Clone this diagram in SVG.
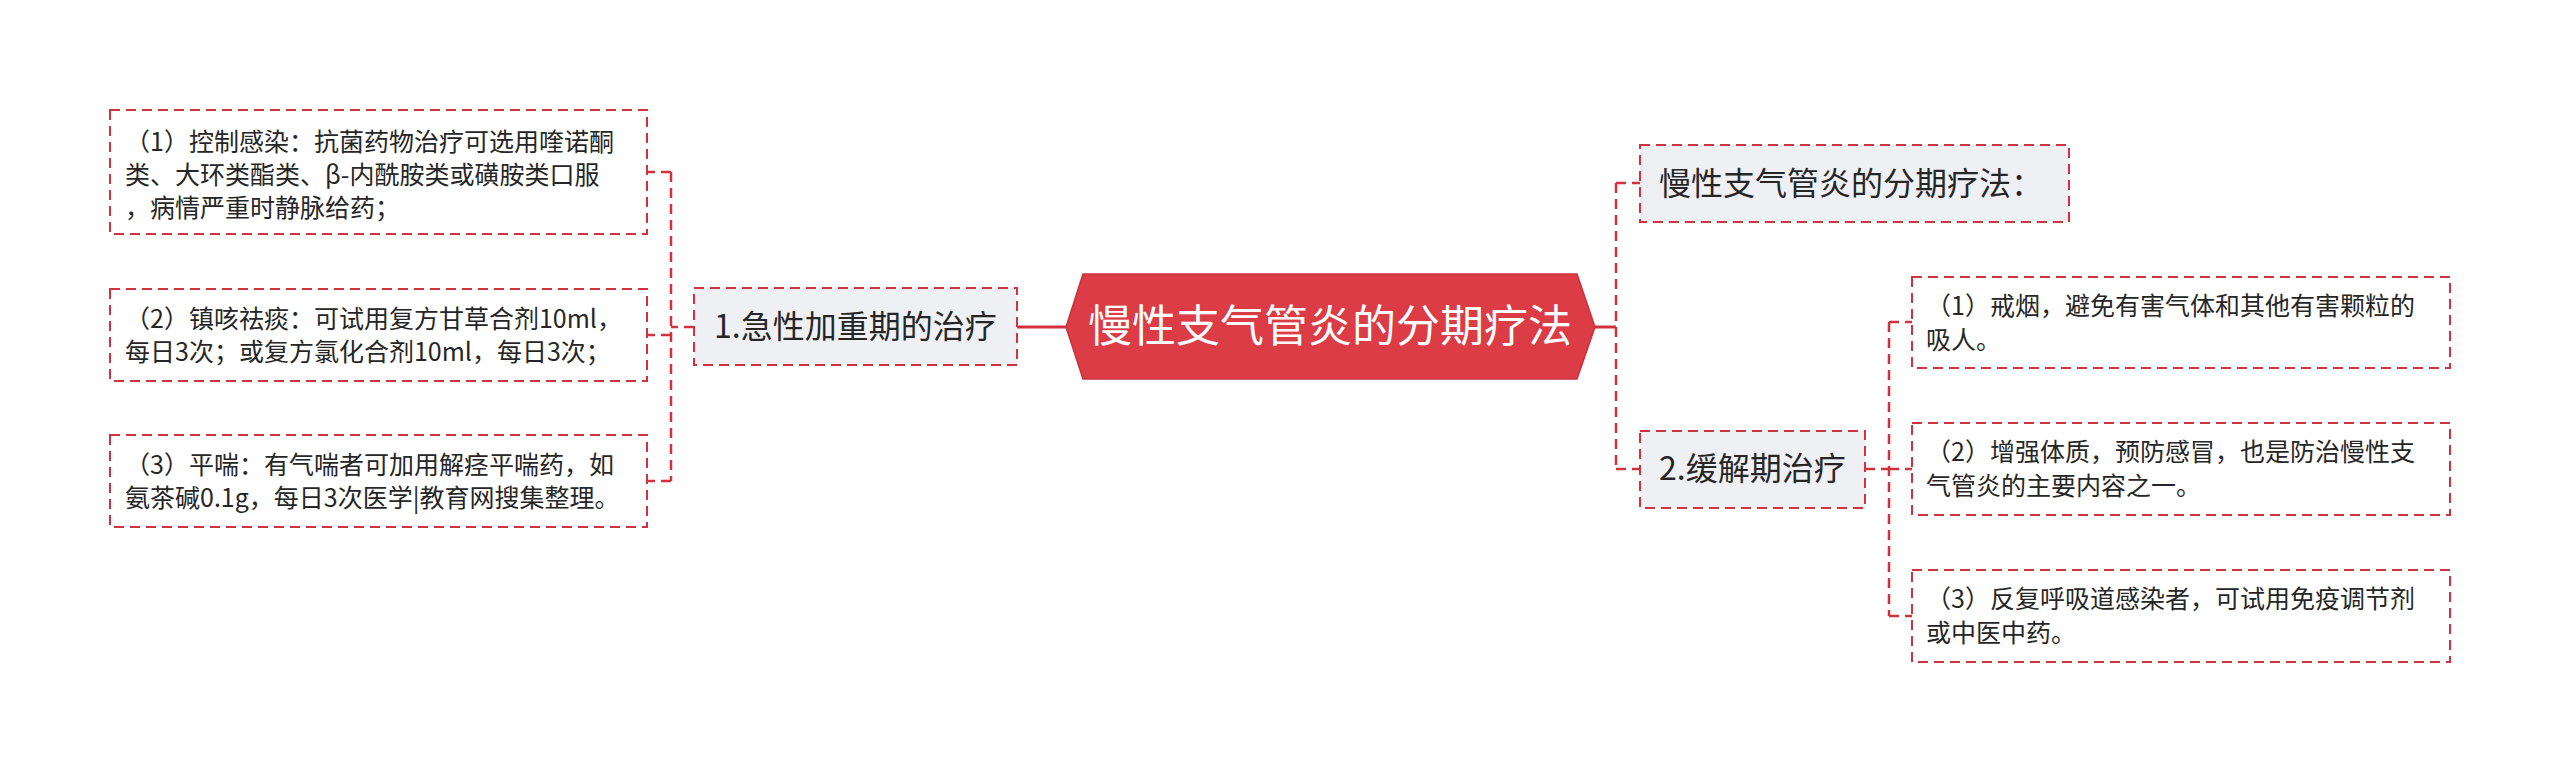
<svg xmlns="http://www.w3.org/2000/svg" width="2560" height="771" viewBox="0 0 2560 771">
<style>
.bg{fill:#ffffff}
.leaf{fill:#ffffff;stroke:#d0323e;stroke-width:2;stroke-dasharray:10 6}
.node{fill:#eef0f4;stroke:#d0323e;stroke-width:2;stroke-dasharray:10 6}
.conn{fill:none;stroke:#d0323e;stroke-width:2.5;stroke-dasharray:10 6}
.solid{fill:none;stroke:#d0323e;stroke-width:3}
.t{font-family:"Noto Sans CJK SC","Noto Sans",sans-serif;fill:#262626}
.s{font-size:25px}
.m{font-size:32px}
.c{font-size:44px;fill:#ffffff;text-anchor:middle}
</style>
<rect class="bg" x="0" y="0" width="2560" height="771"/>
<g id="connectors">
<path class="solid" d="M1017 327 H1067"/>
<path class="solid" d="M1595 327 H1616"/>
<path class="conn" d="M694 327 H671 M671 172 V481 M671 172 H647 M671 335 H647 M671 481 H647"/>
<path class="conn" d="M1616 183 V469 M1616 183 H1640 M1616 469 H1640"/>
<path class="conn" d="M1865 469 H1889 M1889 322 V616 M1889 322 H1912 M1889 469 H1912 M1889 616 H1912"/>
</g>
<g id="root">
<polygon points="1066,327 1083,274 1577,274 1595,327 1577,379 1083,379" fill="#dc3c46" stroke="#c8323c" stroke-width="1.5"/>
<text class="t c" x="1330" y="342">慢性支气管炎的分期疗法</text>
</g>
<g id="n-acute">
<rect class="node" x="694" y="288" width="323" height="77"/>
<text class="t m" x="714" y="338">1.急性加重期的治疗</text>
</g>
<g id="n-acute-1">
<rect class="leaf" x="110" y="110" width="537" height="124"/>
<text class="t s"><tspan x="125" y="151">（1）控制感染：抗菌药物治疗可选用喹诺酮</tspan><tspan x="125" y="184">类、大环类酯类、β-内酰胺类或磺胺类口服</tspan><tspan x="125" y="217">，病情严重时静脉给药；</tspan></text>
</g>
<g id="n-acute-2">
<rect class="leaf" x="110" y="289" width="537" height="92"/>
<text class="t s"><tspan x="125" y="328">（2）镇咳祛痰：可试用复方甘草合剂10ml，</tspan><tspan x="125" y="361">每日3次；或复方氯化合剂10ml，每日3次；</tspan></text>
</g>
<g id="n-acute-3">
<rect class="leaf" x="110" y="435" width="537" height="92"/>
<text class="t s"><tspan x="125" y="474">（3）平喘：有气喘者可加用解痉平喘药，如</tspan><tspan x="125" y="507">氨茶碱0.1g，每日3次医学|教育网搜集整理。</tspan></text>
</g>
<g id="n-title">
<rect class="node" x="1640" y="145" width="429" height="77"/>
<text class="t m" x="1659" y="195">慢性支气管炎的分期疗法：</text>
</g>
<g id="n-remission">
<rect class="node" x="1640" y="431" width="225" height="77"/>
<text class="t m" x="1659" y="480">2.缓解期治疗</text>
</g>
<g id="n-rem-1">
<rect class="leaf" x="1912" y="277" width="538" height="91"/>
<text class="t s"><tspan x="1926" y="315">（1）戒烟，避免有害气体和其他有害颗粒的</tspan><tspan x="1926" y="349">吸人。</tspan></text>
</g>
<g id="n-rem-2">
<rect class="leaf" x="1912" y="423" width="538" height="92"/>
<text class="t s"><tspan x="1926" y="461">（2）增强体质，预防感冒，也是防治慢性支</tspan><tspan x="1926" y="495">气管炎的主要内容之一。</tspan></text>
</g>
<g id="n-rem-3">
<rect class="leaf" x="1912" y="570" width="538" height="92"/>
<text class="t s"><tspan x="1926" y="608">（3）反复呼吸道感染者，可试用免疫调节剂</tspan><tspan x="1926" y="642">或中医中药。</tspan></text>
</g>
</svg>
